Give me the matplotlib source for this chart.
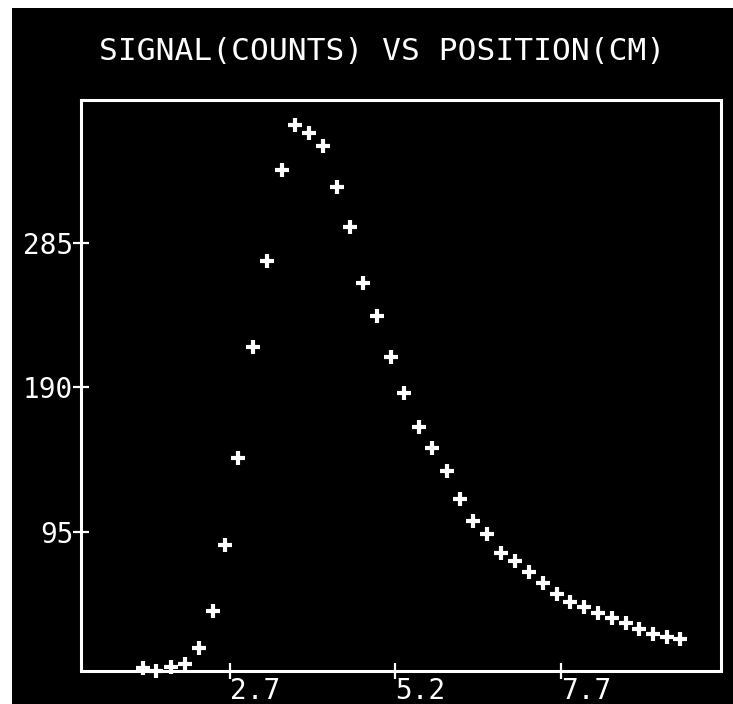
import matplotlib
matplotlib.use("Agg")
import matplotlib.pyplot as plt
from matplotlib.patches import Rectangle

# position (cm) and signal (counts)
position = [1.39, 1.58, 1.81, 2.02, 2.23, 2.44, 2.62, 2.82, 3.05, 3.26,
            3.49, 3.68, 3.89, 4.11, 4.32, 4.51, 4.71, 4.92, 5.13, 5.33,
            5.56, 5.75, 5.98, 6.17, 6.37, 6.58, 6.79, 7.01, 7.22, 7.43,
            7.64, 7.84, 8.05, 8.26, 8.47, 8.68, 8.88, 9.09, 9.30, 9.50]
signal = [5.6, 3.6, 6.3, 8.2, 18.7, 43.1, 86.5, 143.7, 216.6, 273.2,
          333.0, 362.6, 357.3, 348.8, 321.8, 295.5, 258.7, 237.0, 210.1, 186.4,
          164.0, 150.2, 135.1, 116.7, 102.2, 93.7, 81.2, 75.9, 68.7, 61.5,
          54.2, 49.0, 45.7, 41.8, 38.5, 35.2, 31.2, 27.9, 26.0, 24.7]

xticks = [2.7, 5.2, 7.7]
xtick_labels = ["2.7", "5.2", "7.7"]
yticks = [95, 190, 285]
ytick_labels = ["95", "190", "285"]

W, H = 733, 704
fig = plt.figure(figsize=(W / 100, H / 100), dpi=100, facecolor="black")

# white scan border on the left and top edges
fig.patches.append(Rectangle((0, 0), 12 / W, 1, transform=fig.transFigure,
                             facecolor="white", edgecolor="none", zorder=-5))
fig.patches.append(Rectangle((0, 1 - 8 / H), 1, 8 / H, transform=fig.transFigure,
                             facecolor="white", edgecolor="none", zorder=-5))

ax = fig.add_axes([81 / W, 1 - 671 / H, (721 - 81) / W, (671 - 100) / H])
ax.set_facecolor("black")

ax.plot(position, signal, linestyle="none", marker="+", ms=9.5, mew=3,
        color="white", clip_on=False)

ax.set_xlim(0.45, 10.12)
ax.set_ylim(3.6, 379)

for s in ax.spines.values():
    s.set_color("white")
    s.set_linewidth(2.2)

mono = "DejaVu Sans Mono"
ax.set_xticks(xticks)
ax.set_xticklabels(xtick_labels, fontsize=20, family=mono, color="white",
                   ha="left")
ax.set_yticks(yticks)
ax.set_yticklabels(ytick_labels, fontsize=20, family=mono, color="white")
ax.tick_params(axis="both", direction="inout", length=11, width=1.6,
               color="white", pad=0)
ax.tick_params(axis="x", pad=-1)

fig.text(382 / W, 1 - 52 / H, "SIGNAL(COUNTS) VS POSITION(CM)", ha="center",
         va="center", fontsize=22.5, family=mono, color="white")

fig.savefig("out.png", dpi=100, facecolor=fig.get_facecolor())
